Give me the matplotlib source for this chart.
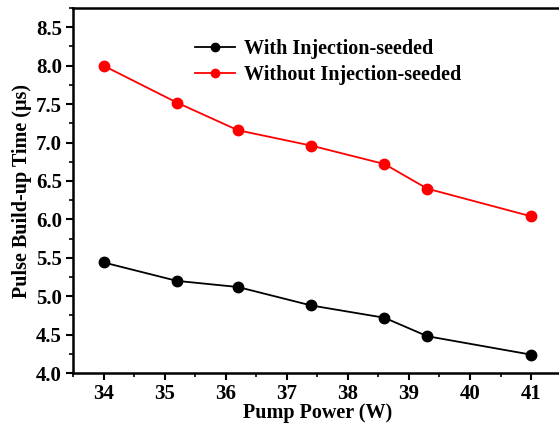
import matplotlib
matplotlib.use("Agg")
import matplotlib.pyplot as plt
from matplotlib.ticker import MultipleLocator

# Pump power (W)
pump_power = [34.0, 35.2, 36.2, 37.4, 38.6, 39.3, 41.0]
# Pulse build-up time (us)
with_seeded = [5.44, 5.20, 5.12, 4.88, 4.72, 4.48, 4.24]
without_seeded = [8.00, 7.52, 7.16, 6.96, 6.72, 6.40, 6.04]

plt.rcParams["font.family"] = ["Liberation Serif", "DejaVu Serif"]
plt.rcParams["font.weight"] = "bold"

fig = plt.figure(figsize=(5.59, 4.23), dpi=100)
ax = fig.add_axes([0.1306, 0.118, 0.874, 0.863])

ax.plot(pump_power, with_seeded, color="black", marker="o", markersize=7.5,
        linewidth=1.3, label="With Injection-seeded")
ax.plot(pump_power, without_seeded, color="red", marker="o", markersize=7.5,
        linewidth=1.3, label="Without Injection-seeded")

ax.set_xlim(33.5, 41.5)
ax.set_ylim(4.0, 8.75)
ax.xaxis.set_major_locator(MultipleLocator(1))
ax.xaxis.set_minor_locator(MultipleLocator(0.5))
ax.yaxis.set_major_locator(MultipleLocator(0.5))
ax.yaxis.set_minor_locator(MultipleLocator(0.25))
ax.yaxis.set_major_formatter(plt.FormatStrFormatter("%.1f"))

ax.tick_params(which="major", direction="out", length=5, width=1.5,
               labelsize=15, pad=3)
ax.tick_params(which="minor", direction="out", length=3, width=1.2)
for s in ax.spines.values():
    s.set_linewidth(1.8)

ax.set_xlabel("Pump Power (W)", fontsize=14.5, fontweight="bold", labelpad=-1)
ax.set_ylabel("Pulse Build-up Time (\u03bcs)", fontsize=14.5,
              fontweight="bold", labelpad=3)

ax.legend(loc="upper left", bbox_to_anchor=(0.349, 0.908),
          bbox_transform=fig.transFigure, frameon=False, fontsize=14.5,
          handlelength=2.0, handletextpad=0.45, labelspacing=0.28,
          borderpad=0, borderaxespad=0, markerscale=0.8)

fig.savefig("out.png", dpi=100)
